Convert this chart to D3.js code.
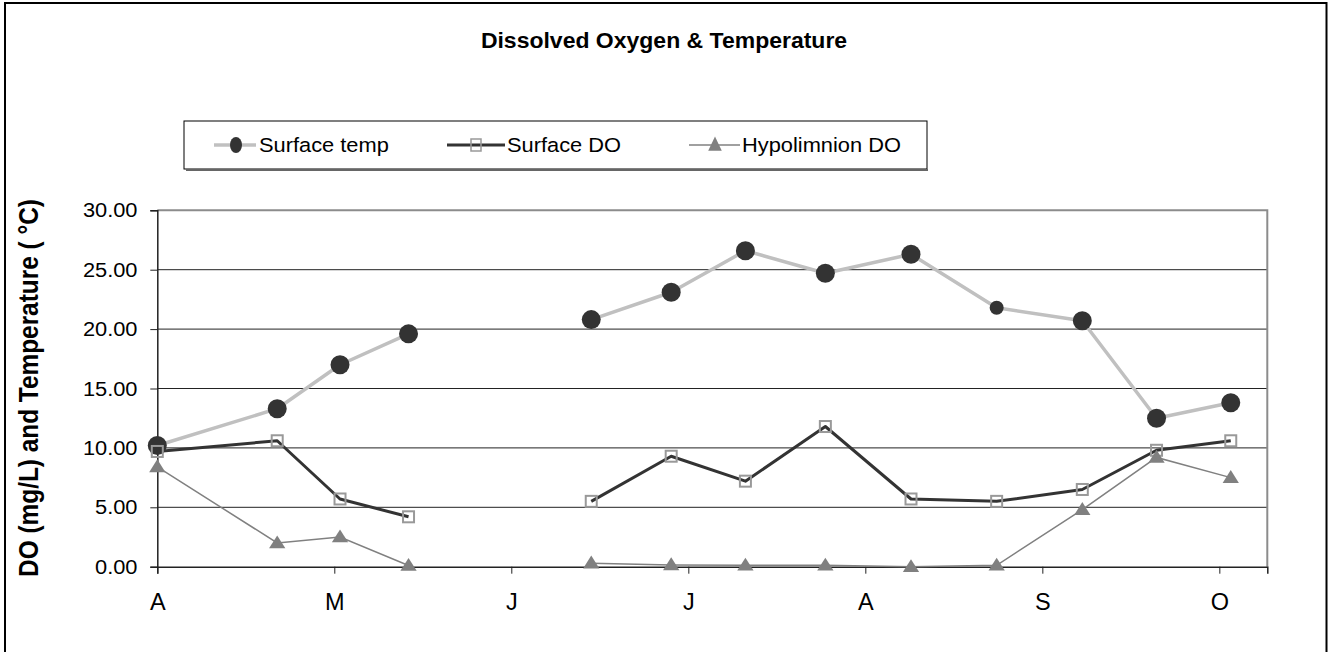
<!DOCTYPE html>
<html>
<head>
<meta charset="utf-8">
<script src="https://cdn.jsdelivr.net/npm/d3@7"></script>
<style>
  body { margin: 0; background: #fff; }
  svg { display: block; }
  text { font-family: "Liberation Sans", Arial, sans-serif; fill: #000; }
</style>
</head>
<body>
<svg id="chart" width="1330" height="652"></svg>
<script>
// ---------------- data ----------------
const sampleDates = ["2000-04-01","2000-04-22","2000-05-03","2000-05-15","2000-06-01",
                     "2000-06-16","2000-06-30","2000-07-13","2000-07-27","2000-08-11",
                     "2000-08-26","2000-09-10","2000-09-23","2000-10-06"];
const surfaceTemp   = [10.2, 13.3, 17.0, 19.6, null, 20.8, 23.1, 26.6, 24.7, 26.3, 21.8, 20.7, 12.5, 13.8];
const surfaceDO     = [9.7, 10.6, 5.7, 4.2, null, 5.5, 9.3, 7.2, 11.8, 5.7, 5.5, 6.5, 9.8, 10.6];
const hypolimnionDO = [8.4, 2.0, 2.5, 0.1, null, 0.3, 0.15, 0.12, 0.12, 0.0, 0.12, 4.8, 9.2, 7.5];
const seriesNames = ["Surface temp", "Surface DO", "Hypolimnion DO"];
const monthTickLabels = ["A", "M", "J", "J", "A", "S", "O"];
const yTickValues = [0, 5, 10, 15, 20, 25, 30];
const chartTitle = "Dissolved Oxygen & Temperature";
const yAxisTitle = "DO (mg/L) and Temperature ( \u00B0C)";

// ---------------- layout ----------------
const svg = d3.select("#chart");
const plot = { left: 157.3, right: 1267.3, top: 210.3, bottom: 566.7 };
const stretch = 1.12;

const parse = d3.utcParse("%Y-%m-%d");
const dates = sampleDates.map(parse);
const start = dates[0];
const tickDates = monthTickLabels.map((_, i) => d3.utcDay.offset(start, 31 * i));
const x = d3.scaleUtc()
  .domain([start, new Date(+start + 194.4 * 864e5)])
  .range([plot.left, plot.right]);
const y = d3.scaleLinear().domain([0, 30]).range([plot.bottom, plot.top]);

// background and outer frame
svg.append("rect").attr("width", 1330).attr("height", 652).attr("fill", "#fff");
svg.append("rect").attr("x", 5).attr("y", 3).attr("width", 1321.5).attr("height", 700)
  .attr("fill", "none").attr("stroke", "#000").attr("stroke-width", 2);

// title
svg.append("text").text(chartTitle)
  .attr("text-anchor", "middle").attr("font-weight", "bold").attr("font-size", 21.5)
  .attr("transform", `translate(664,48) scale(1.07,1)`);

// y-axis title
svg.append("text").text(yAxisTitle)
  .attr("text-anchor", "middle").attr("font-weight", "bold").attr("font-size", 24.4)
  .attr("transform", `translate(38,388) scale(${stretch},1) rotate(-90)`);

// gridlines
svg.append("g").selectAll("line").data(yTickValues.filter(v => v > 0 && v < 30)).join("line")
  .attr("x1", plot.left).attr("x2", plot.right)
  .attr("y1", d => y(d)).attr("y2", d => y(d))
  .attr("stroke", "#222").attr("stroke-width", 1);

// plot area border (top/right, grey)
svg.append("path")
  .attr("d", `M${plot.left},${y(30)}H${plot.right}V${plot.bottom}`)
  .attr("fill", "none").attr("stroke", "#8c8c8c").attr("stroke-width", 2);

// y axis
const yAxisG = svg.append("g").attr("transform", `translate(${plot.left},0)`)
  .call(d3.axisLeft(y).tickValues(yTickValues).tickFormat(d3.format(".2f")).tickSize(7));
yAxisG.select(".domain").attr("stroke", "#222").attr("stroke-width", 1.5);
yAxisG.selectAll(".tick line").attr("stroke", "#222");
yAxisG.selectAll(".tick text")
  .attr("x", 0).attr("dy", null).attr("y", 6.5)
  .attr("font-size", 19.5).attr("font-family", null)
  .attr("transform", `translate(-19.8,0) scale(${stretch},1)`);

// x axis
const xAxisG = svg.append("g").attr("transform", `translate(0,${plot.bottom})`)
  .call(d3.axisBottom(x).tickValues(tickDates).tickFormat((d, i) => monthTickLabels[i]).tickSize(7));
xAxisG.select(".domain").attr("stroke", "#222").attr("stroke-width", 1.5);
xAxisG.selectAll(".tick line").attr("stroke", "#222");
xAxisG.selectAll(".tick text")
  .attr("y", 43.5).attr("dy", null)
  .attr("font-size", 23.5).attr("font-family", null);

// ---------------- series ----------------
const rows = dates.map((d, i) => ({ date: d, temp: surfaceTemp[i], sdo: surfaceDO[i], hdo: hypolimnionDO[i] }));

function lineFor(key) {
  return d3.line().defined(d => d[key] != null).x(d => x(d.date)).y(d => y(d[key]));
}
const triangle = d3.symbol().type(d3.symbolTriangle);

// Surface temp
svg.append("path").datum(rows).attr("d", lineFor("temp"))
  .attr("fill", "none").attr("stroke", "#c0c0c0").attr("stroke-width", 3.5).attr("stroke-linejoin", "round");
svg.append("g").selectAll("circle").data(rows.filter(d => d.temp != null)).join("circle")
  .attr("cx", d => x(d.date)).attr("cy", d => y(d.temp))
  .attr("r", (d, i) => i === 9 ? 7 : 9.5)
  .attr("fill", "#333");

// Surface DO
svg.append("path").datum(rows).attr("d", lineFor("sdo"))
  .attr("fill", "none").attr("stroke", "#333").attr("stroke-width", 3).attr("stroke-linejoin", "round");
svg.append("g").selectAll("rect").data(rows.filter(d => d.sdo != null)).join("rect")
  .attr("x", d => x(d.date) - 5.5).attr("y", d => y(d.sdo) - 5.5)
  .attr("width", 11).attr("height", 11)
  .attr("fill", "none").attr("stroke", "#999").attr("stroke-width", 2);

// Hypolimnion DO
svg.append("path").datum(rows).attr("d", lineFor("hdo"))
  .attr("fill", "none").attr("stroke", "#808080").attr("stroke-width", 1.5);
svg.append("g").selectAll("path").data(rows.filter(d => d.hdo != null)).join("path")
  .attr("d", triangle.size(95))
  .attr("transform", d => `translate(${x(d.date)},${y(d.hdo) + 1}) scale(1.1,1)`)
  .attr("fill", "#808080");

// ---------------- legend ----------------
const legend = svg.append("g");
legend.append("rect").attr("x", 184).attr("y", 121).attr("width", 743).attr("height", 48)
  .attr("fill", "#fff").attr("stroke", "#000").attr("stroke-width", 1);
legend.append("line").attr("x1", 186).attr("x2", 928).attr("y1", 170).attr("y2", 170)
  .attr("stroke", "#666").attr("stroke-width", 2);

const legendItems = [
  { lx: 214, rx: 256, mx: 236, tx: 259, stroke: "#c0c0c0", sw: 3.5, marker: "circle" },
  { lx: 447, rx: 505, mx: 476, tx: 507, stroke: "#333", sw: 3, marker: "square" },
  { lx: 689, rx: 740, mx: 715, tx: 742, stroke: "#808080", sw: 1.5, marker: "triangle" }
];
const ly = 145;
legendItems.forEach((it, i) => {
  legend.append("line").attr("x1", it.lx).attr("x2", it.rx).attr("y1", ly).attr("y2", ly)
    .attr("stroke", it.stroke).attr("stroke-width", it.sw);
  if (it.marker === "circle") {
    legend.append("ellipse").attr("cx", it.mx).attr("cy", ly).attr("rx", 6).attr("ry", 8).attr("fill", "#333");
  } else if (it.marker === "square") {
    legend.append("rect").attr("x", it.mx - 5).attr("y", ly - 6).attr("width", 10).attr("height", 12)
      .attr("fill", "#fff").attr("fill-opacity", 0).attr("stroke", "#999").attr("stroke-width", 1.5);
  } else {
    legend.append("path").attr("d", triangle.size(80)).attr("transform", `translate(${it.mx},${ly + 1}) scale(1,1.2)`)
      .attr("fill", "#808080");
  }
  legend.append("text").text(seriesNames[i]).attr("font-size", 19.5)
    .attr("transform", `translate(${it.tx},${ly + 7}) scale(${stretch},1)`);
});
</script>
</body>
</html>
